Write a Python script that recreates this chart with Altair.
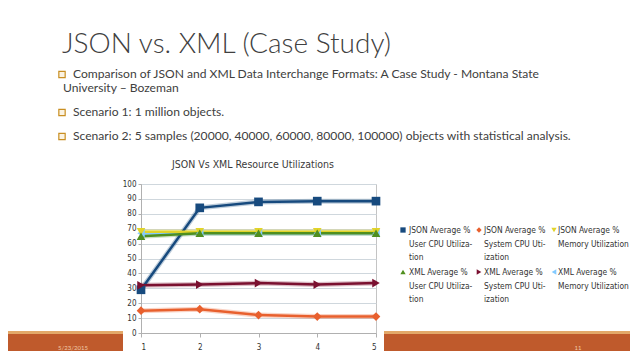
import altair as alt
import pandas as pd

# ---------------- data ----------------
x_samples = [1, 2, 3, 4, 5]
series_names = [
    "JSON Average % User CPU Utilization",
    "JSON Average % System CPU Utilization",
    "JSON Average % Memory Utilization",
    "XML Average % User CPU Utilization",
    "XML Average % System CPU Utilization",
    "XML Average % Memory Utilization",
]
json_user_cpu = [29, 84, 88, 88.5, 88.5]
json_system_cpu = [15, 16, 12, 11, 11]
json_memory = [68, 68, 68, 68, 68]
xml_user_cpu = [65, 67, 67, 67, 67]
xml_system_cpu = [32, 32.5, 33.5, 32.5, 33.5]
xml_memory = [67, 67, 67, 67, 67]  # hidden under the other series in the picture
series_values = [json_user_cpu, json_system_cpu, json_memory,
                 xml_user_cpu, xml_system_cpu, xml_memory]

legend_lines = [
    ["JSON Average %", "User CPU Utiliza-", "tion"],
    ["JSON Average %", "System CPU Uti-", "ization"],
    ["JSON Average %", "Memory Utilization"],
    ["XML Average %", "User CPU Utiliza-", "tion"],
    ["XML Average %", "System CPU Uti-", "ization"],
    ["XML Average %", "Memory Utilization"],
]
y_ticks = list(range(0, 101, 10))

slide_title = "JSON vs. XML (Case Study)"
bullets = [
    ["Comparison of JSON and XML Data Interchange Formats: A Case Study - Montana State",
     "University \u2013 Bozeman"],
    ["Scenario 1: 1 million objects."],
    ["Scenario 2: 5 samples (20000, 40000, 60000, 80000, 100000) objects with statistical analysis."],
]
chart_title = "JSON Vs XML Resource Utilizations"
footer_date = "5/23/2015"
footer_page = "11"

# ---------------- styles ----------------
series_colors = ["#174a7e", "#e8602e", "#e2d42a", "#4f8f1f", "#7a1030", "#83caff"]
series_shapes = ["square", "diamond", "triangle-down", "triangle-up",
                 "triangle-right", "triangle-left"]
halo_widths = [5, 5, 9, 4, 4, 3]
draw_order = [5, 0, 1, 2, 3, 4]

rows = []
for z, k in enumerate(draw_order):
    for i, xv in enumerate(x_samples):
        rows.append({"sample": xv, "value": series_values[k][i],
                     "series": series_names[k], "z": z})
df = pd.DataFrame(rows)

color_scale = alt.Scale(domain=series_names, range=series_colors)
shape_scale = alt.Scale(domain=series_names, range=series_shapes)
size_scale = alt.Scale(domain=series_names, range=halo_widths)

AX = "#b0b0b0"
NARROW = "'DejaVu Sans Condensed', 'Liberation Sans', sans-serif"

xenc = alt.X("sample:Q",
             scale=alt.Scale(domain=[1, 5], nice=False, zero=False),
             axis=alt.Axis(values=x_samples, format="d", title=None, grid=False,
                           labelFont=NARROW, labelFontSize=8, labelColor="#333333",
                           tickColor=AX, tickSize=4, domainColor=AX, labelPadding=6))
yenc = alt.Y("value:Q",
             scale=alt.Scale(domain=[0, 100], nice=False),
             axis=alt.Axis(values=y_ticks, title=None, grid=True, gridColor="#cfd7dd",
                           labelFont=NARROW, labelFontSize=8, labelColor="#333333",
                           tickColor=AX, tickSize=3, domainColor=AX, labelPadding=2))

base = alt.Chart(df)
halo = base.mark_line(opacity=0.28).encode(
    x=xenc, y=yenc,
    color=alt.Color("series:N", scale=color_scale, legend=None),
    size=alt.Size("series:N", scale=size_scale, legend=None),
    order="sample:Q",
)
lines = base.mark_line(strokeWidth=2.5).encode(
    x=xenc, y=yenc,
    color=alt.Color("series:N", scale=color_scale, legend=None),
    order="sample:Q",
)
points = base.mark_point(filled=True, opacity=1, size=75).encode(
    x=xenc, y=yenc,
    color=alt.Color("series:N", scale=color_scale, legend=None),
    shape=alt.Shape("series:N", scale=shape_scale, legend=None),
    order="z:Q",
)


def deco():
    return alt.Chart(pd.DataFrame({"d": [0]}))


def txt(s, x, y, size, font, color, weight="normal", align="left", baseline="alphabetic"):
    return deco().mark_text(text=s, font=font, fontSize=size, color=color,
                            fontWeight=weight, align=align, baseline=baseline).encode(
        x=alt.value(x), y=alt.value(y))


def rect(x1, x2, y1, y2, color):
    return deco().mark_rect(color=color).encode(
        x=alt.value(x1), x2=alt.value(x2), y=alt.value(y1), y2=alt.value(y2))


layers = []
# footer band (split around the white chart picture)
for (a, b) in [(-133, -18), (243, 489)]:
    layers.append(rect(a, b, 147, 150, "#e3a869"))
    layers.append(rect(a, b, 150, 175, "#bf5a2c"))
layers.append(txt(footer_date, -68, 166, 6, "Lato", "#f1c9a6", align="center"))
layers.append(txt(footer_page, 437, 166, 6, "Lato", "#f1c9a6", align="center"))

layers += [halo, lines, points]

# slide title and bullets
layers.append(txt(slide_title, -79, -131, 28, "Lato", "#404040", weight=300))
bullet_y = [-106, -68, -44]
for by, blines in zip(bullet_y, bullets):
    layers.append(deco().mark_square(size=40, filled=True, color="#fbf3e2", stroke="#c98f22",
                                     strokeWidth=1.2, opacity=1).encode(
        x=alt.value(-79), y=alt.value(by - 3.5)))
    for j, line in enumerate(blines):
        layers.append(txt(line, -68 if j == 0 else -78, by + 14 * j, 12.1, "Lato", "#404040"))

# chart title
layers.append(txt(chart_title, 112, -19, 10.5, NARROW, "#3a3a3a",
                  align="center", baseline="middle"))

# legend
col_mark_x = [262, 338, 413]
col_text_x = [268, 343, 417]
row_y = [46, 88]
for k in range(6):
    c, r = k % 3, k // 3
    layers.append(deco().mark_point(filled=True, opacity=1, size=28,
                                    shape=series_shapes[k], color=series_colors[k]).encode(
        x=alt.value(col_mark_x[c]), y=alt.value(row_y[r])))
    for j, line in enumerate(legend_lines[k]):
        layers.append(txt(line, col_text_x[c], row_y[r] + 13.5 * j, 8.4, NARROW,
                          "#333333", baseline="middle"))

chart = alt.layer(*layers).properties(
    width=235, height=149,
    padding={"left": 133, "top": 176, "right": 254, "bottom": 18},
    autosize=alt.AutoSizeParams(type="none"),
    background="white",
).configure_view(stroke="#c4c4c4")

chart.save("out.html", embed_options={"renderer": "svg", "actions": False})
